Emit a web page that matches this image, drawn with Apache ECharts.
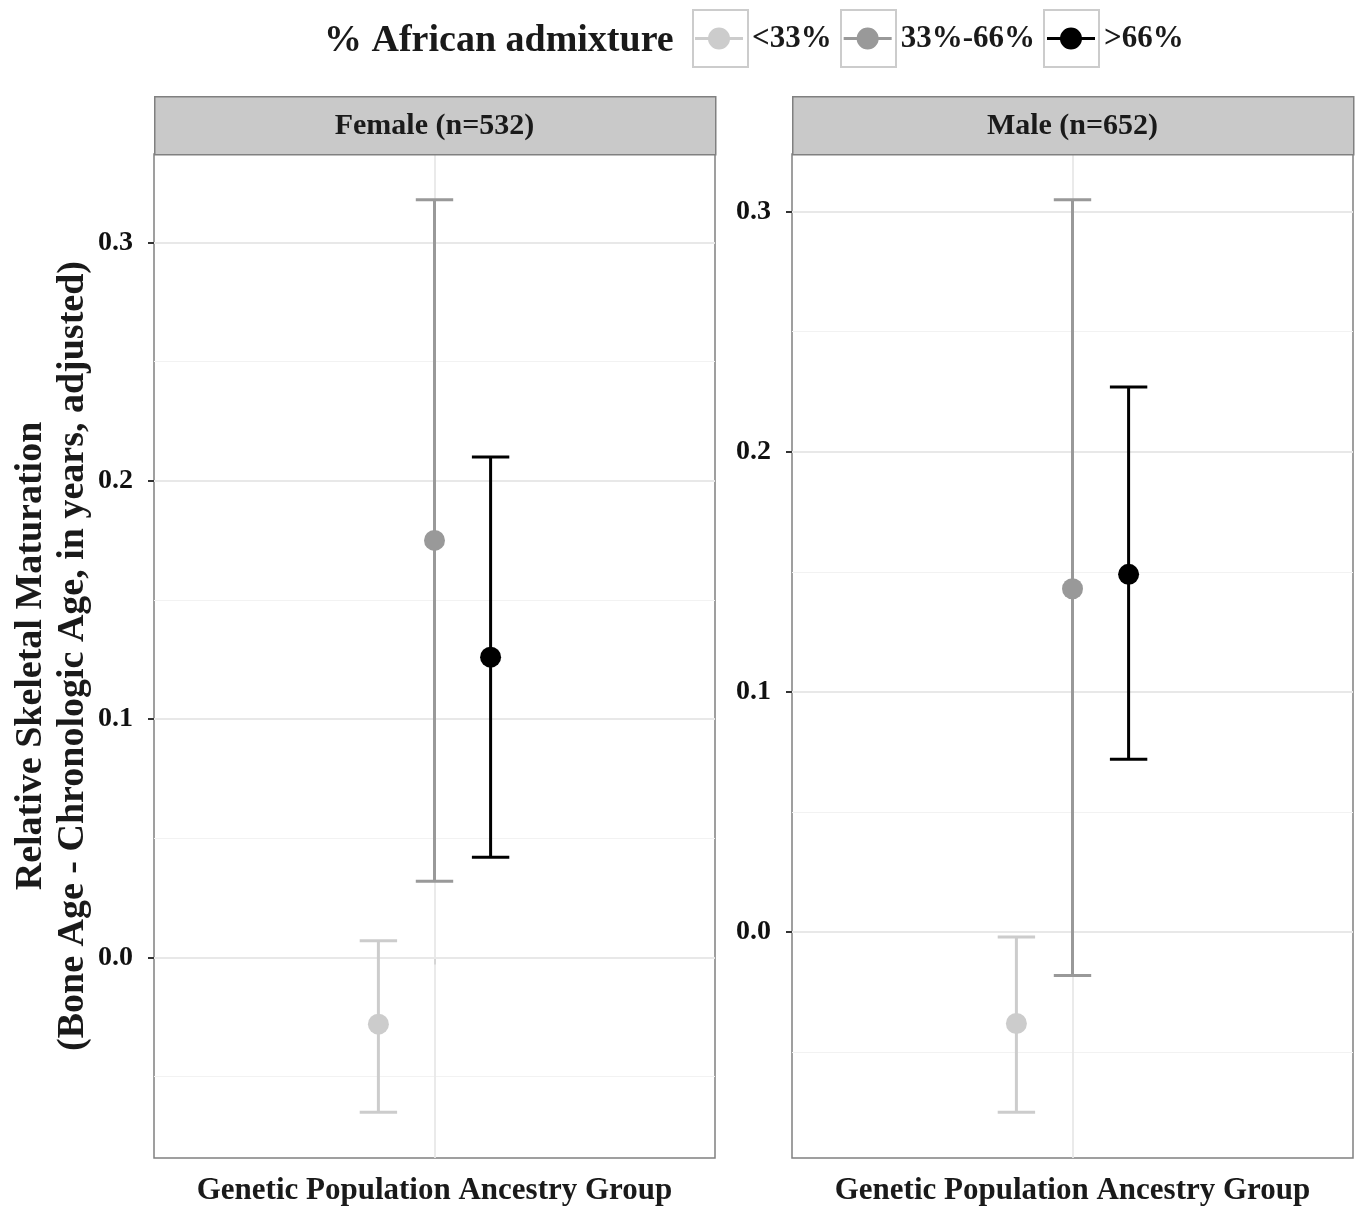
<!DOCTYPE html>
<html>
<head>
<meta charset="utf-8">
<script src="https://cdn.jsdelivr.net/npm/echarts@6/dist/echarts.min.js"></script>
<style>
html,body{margin:0;padding:0;background:#fff;}
#chart{width:1358px;height:1211px;}
</style>
</head>
<body>
<div id="chart"></div>
<script>
// ---- data ----
const groups = ['<33%', '33%-66%', '>66%'];
const groupColors = ['#cccccc', '#999999', '#000000'];
const panels = ['Female (n=532)', 'Male (n=652)'];
const femaleMean  = [-0.028, 0.175, 0.126];
const femaleLower = [-0.065, 0.032, 0.042];
const femaleUpper = [ 0.007, 0.318, 0.210];
const maleMean    = [-0.038, 0.143, 0.149];
const maleLower   = [-0.075, -0.018, 0.072];
const maleUpper   = [-0.002, 0.305, 0.227];
const yTickValues  = [0.0, 0.1, 0.2, 0.3];
const yMinorValues = [-0.05, 0.05, 0.15, 0.25];
const xCategory = 1;       // single discrete position
const DODGE = 0.12;        // dodge spacing between groups
const CAP_WIDTH = 0.08;    // error bar cap width (x units)
const xTitle = 'Genetic Population Ancestry Group';
const yTitle = 'Relative Skeletal Maturation\n(Bone Age - Chronologic Age, in years, adjusted)';
const legendTitle = '% African admixture';

const FONT = 'Liberation Serif';
const panelData = [
  {mean: femaleMean, lower: femaleLower, upper: femaleUpper},
  {mean: maleMean, lower: maleLower, upper: maleUpper}
];

const gridLeft = [154, 792];
const GRID_TOP = 154, GRID_W = 561, GRID_H = 1009;

function renderErrorBar(params, api) {
  const x = api.value(0), m = api.value(1), lo = api.value(2), hi = api.value(3);
  const pm = api.coord([x, m]), pl = api.coord([x, lo]), ph = api.coord([x, hi]);
  const half = api.size([CAP_WIDTH, 0])[0] / 2;
  const color = api.visual('color');
  const ls = {stroke: color, lineWidth: 3};
  return {
    type: 'group',
    children: [
      {type: 'line', shape: {x1: pl[0], y1: pl[1], x2: ph[0], y2: ph[1]}, style: ls},
      {type: 'line', shape: {x1: ph[0] - half, y1: ph[1], x2: ph[0] + half, y2: ph[1]}, style: ls},
      {type: 'line', shape: {x1: pl[0] - half, y1: pl[1], x2: pl[0] + half, y2: pl[1]}, style: ls},
      {type: 'circle', shape: {cx: pm[0], cy: pm[1], r: 10.5}, style: {fill: color}}
    ]
  };
}

const grids = [], xAxes = [], yAxes = [], series = [], graphics = [];
panels.forEach((p, k) => {
  grids.push({left: gridLeft[k], top: GRID_TOP, width: GRID_W, height: GRID_H,
    show: true, borderColor: '#808080', borderWidth: 1.5, backgroundColor: '#ffffff'});
  xAxes.push({
    gridIndex: k, type: 'value', min: 0.4, max: 1.6,
    axisLine: {show: false},
    axisTick: {show: true, customValues: [xCategory], length: 7, lineStyle: {color: '#333', width: 2}},
    axisLabel: {show: true, customValues: [xCategory], formatter: () => ''},
    splitLine: {show: false},
    name: xTitle, nameLocation: 'middle', nameGap: 17,
    nameTextStyle: {fontFamily: FONT, fontWeight: 'bold', fontSize: 31, color: '#1a1a1a'}
  });
  yAxes.push({
    gridIndex: k, type: 'value',
    min: v => v.min - (v.max - v.min) * 0.05,
    max: v => v.max + (v.max - v.min) * 0.05,
    axisLine: {show: false},
    axisTick: {show: true, customValues: yTickValues, length: 6, lineStyle: {color: '#333', width: 2}},
    axisLabel: {show: true, customValues: yTickValues, formatter: v => v.toFixed(1), margin: 21,
      fontFamily: FONT, fontWeight: 'bold', fontSize: 28, color: '#111'},
    splitLine: {show: false},
    name: k === 0 ? yTitle : '', nameLocation: 'middle', nameRotate: 90, nameGap: 60,
    nameTextStyle: {fontFamily: FONT, fontWeight: 'bold', fontSize: 38, lineHeight: 42, color: '#1a1a1a'}
  });
  // gridlines
  series.push({
    type: 'line', xAxisIndex: k, yAxisIndex: k, data: [], z: 1, silent: true,
    markLine: {
      silent: true, symbol: 'none', animation: false, label: {show: false}, z: 1,
      data: [
        ...yMinorValues.map(v => ({yAxis: v, lineStyle: {color: '#f2f2f2', width: 1.2, type: 'solid'}})),
        ...yTickValues.map(v => ({yAxis: v, lineStyle: {color: '#e8e8e8', width: 1.8, type: 'solid'}})),
        {xAxis: xCategory, lineStyle: {color: '#e8e8e8', width: 1.8, type: 'solid'}}
      ]
    }
  });
  const d = panelData[k];
  groups.forEach((g, i) => {
    series.push({
      type: 'custom', name: g, xAxisIndex: k, yAxisIndex: k, z: 20,
      itemStyle: {color: groupColors[i]},
      renderItem: renderErrorBar,
      encode: {x: 0, y: [1, 2, 3]},
      data: [[xCategory + (i - 1) * DODGE, d.mean[i], d.lower[i], d.upper[i]]]
    });
  });
  // strip
  graphics.push({type: 'rect', left: gridLeft[k], top: 96, z: 10,
    shape: {width: GRID_W, height: 58}, style: {fill: '#c9c9c9', stroke: '#808080', lineWidth: 1.5}});
  graphics.push({type: 'text', x: gridLeft[k] + GRID_W / 2, y: 126, z: 11,
    style: {text: p, fontFamily: FONT, fontWeight: 'bold', fontSize: 30, fill: '#1a1a1a',
      textAlign: 'center', textVerticalAlign: 'middle'}});
});

// legend key boxes
[692, 840, 1043].forEach(x => {
  graphics.push({type: 'rect', left: x, top: 9, z: 0,
    shape: {width: 55, height: 57}, style: {fill: '#ffffff', stroke: '#cccccc', lineWidth: 2}});
});

const legendIcon = 'path://M0,9.5H14V12.5H0Z M34,9.5H48V12.5H34Z M35,11A11,11 0 1 1 13,11A11,11 0 1 1 35,11Z';

const option = {
  backgroundColor: '#ffffff',
  animation: false,
  title: {text: legendTitle, left: 324, top: 22, padding: 0,
    textStyle: {fontFamily: FONT, fontWeight: 'bold', fontSize: 38, color: '#1a1a1a'}},
  legend: {
    data: groups, left: 695, top: 23, padding: 0, itemGap: 12,
    itemWidth: 48, itemHeight: 22, icon: legendIcon,
    itemStyle: {borderWidth: 0},
    textStyle: {fontFamily: FONT, fontWeight: 'bold', fontSize: 31, color: '#1a1a1a', padding: [0, 0, 0, 4]}
  },
  grid: grids, xAxis: xAxes, yAxis: yAxes, series: series,
  graphic: graphics
};

const chart = echarts.init(document.getElementById('chart'), null, {renderer: 'canvas'});
chart.setOption(option);
</script>
</body>
</html>
